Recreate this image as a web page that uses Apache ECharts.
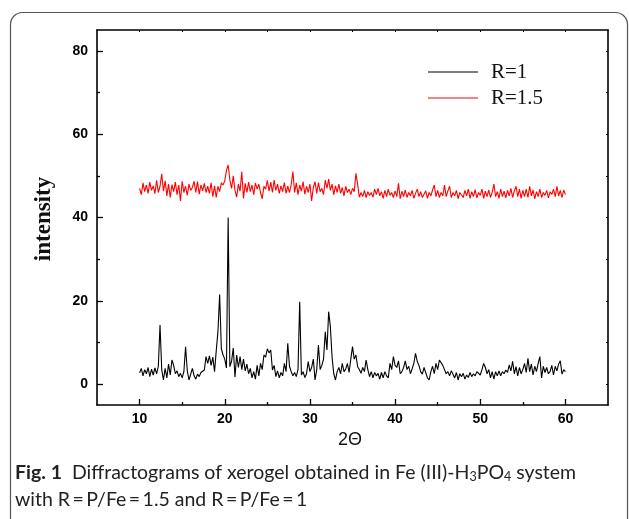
<!DOCTYPE html>
<html>
<head>
<meta charset="utf-8">
<script src="https://cdn.jsdelivr.net/npm/echarts@6/dist/echarts.min.js"></script>
<style>
html,body{margin:0;padding:0;background:#fff;}
#chart{width:629px;height:519px;}
</style>
</head>
<body>
<div id="chart"></div>
<script>
// Sampling grid of the diffractograms (degrees 2-theta)
const angleStart = 10;
const angleStep = 0.2;

// Series R=1 (black), one value per 0.2 degree from 10 to 60
const intensityR1 = [
  2.7, 3.8, 2.0, 3.5, 2.5,   4.0, 1.8, 3.6, 2.2, 3.9,
  2.5, 4.3, 14.2, 3.5, 1.0,  3.8, 1.5, 4.8, 2.2, 5.8,
  4.5, 2.5, 3.2, 1.8, 2.6,   1.5, 3.0, 9.0, 3.2, 1.0,
  0.6, 3.8, 2.0, 1.2, 2.4,   1.8, 2.8, 2.5, 3.4, 6.6,
  5.0, 6.8, 4.5, 6.5, 3.0,   8.0, 12.6, 21.5, 8.5, 7.0,
  6.0, 3.9, 40.0, 4.2, 5.5,  8.7, 1.7, 7.0, 4.0, 6.6,
  3.5, 6.0, 3.2, 4.8, 2.5,   3.8, 1.5, 3.0, 1.2, 4.5,
  2.0, 5.0, 3.5, 7.0, 6.5,   8.5, 7.5, 8.2, 3.4, 4.5,
  1.8, 3.2, 1.5, 2.8, 2.0,   5.0, 3.0, 9.8, 4.3, 3.0,
  2.0, 2.8, 1.8, 3.5, 19.8,  2.2, 3.0, 1.6, 2.5, 5.4,
  3.0, 4.0, 6.0, 1.0, 3.5,   9.4, 3.5, 4.5, 6.0, 12.6,
  8.2, 17.4, 13.8, 6.5, 2.5, 1.0, 3.0, 4.0, 2.5, 5.0,
  3.0, 3.6, 5.0, 2.8, 6.0,   9.0, 6.0, 7.0, 4.2, 3.5,
  2.6, 4.0, 3.0, 5.8, 3.5,   1.8, 3.0, 1.5, 2.8, 2.0,
  2.6, 1.2, 2.8, 1.5, 3.0,   2.0, 1.5, 5.0, 3.5, 6.6,
  4.5, 4.0, 5.6, 2.5, 3.0,   4.0, 5.6, 3.5, 4.3, 2.5,
  3.7, 5.0, 7.4, 5.5, 4.5,   3.0, 2.4, 4.0, 3.6, 1.5,
  1.0, 3.0, 4.3, 2.5, 5.0,   3.5, 5.8, 6.0, 4.5, 4.3,
  2.5, 3.0, 2.0, 3.2, 2.4,   1.5, 2.8, 1.0, 2.5, 1.8,
  2.6, 1.2, 2.2, 1.6, 2.8,   1.8, 2.5, 2.0, 3.0, 3.4,
  2.2, 3.5, 5.0, 4.0, 2.5,   3.5, 1.5, 3.0, 1.2, 3.0,
  2.0, 3.2, 2.0, 3.0, 2.5,   3.4, 2.8, 4.6, 3.2, 5.5,
  2.5, 4.2, 2.0, 4.0, 2.5,   3.5, 5.0, 2.8, 6.2, 3.0,
  4.8, 2.2, 4.3, 3.0, 5.0,   6.6, 1.5, 4.3, 2.8, 4.0,
  2.5, 3.0, 4.5, 2.2, 4.3,   3.2, 4.8, 5.6, 2.4, 3.5,
  3.0
];

// Series R=1.5 (red), same sampling
const intensityR15 = [
  47.0, 45.5, 48.3, 46.2, 47.8,  45.8, 48.5, 46.5, 47.6, 45.7,
  48.9, 46.0, 47.5, 50.5, 46.3,  48.8, 45.2, 48.0, 44.8, 47.9,
  46.2, 48.5, 45.5, 47.8, 44.0,  48.7, 46.0, 47.5, 45.3, 48.0,
  46.5, 47.2, 48.7, 46.0, 48.6,  45.6, 47.8, 46.4, 48.2, 46.0,
  47.5, 45.8, 48.3, 45.0, 47.6,  44.8, 47.5, 46.2, 48.3, 47.8,
  48.8, 51.3, 52.6, 49.0, 47.0,  50.0, 46.5, 44.9, 48.0, 46.3,
  51.0, 44.6, 48.2, 46.0, 48.5,  46.2, 47.8, 45.5, 48.3, 46.8,
  48.0, 46.0, 44.5, 47.5, 46.8,  48.9, 46.3, 48.5, 46.0, 49.0,
  46.5, 48.0, 45.8, 47.6, 46.2,  48.4, 45.8, 47.5, 46.0, 47.8,
  51.0, 46.0, 48.3, 45.5, 47.8,  46.3, 48.6, 45.6, 47.5, 46.0,
  48.0, 44.0, 47.2, 48.6, 45.8,  48.4, 46.2, 47.0, 45.5, 49.0,
  47.0, 49.2, 46.5, 48.0, 45.5,  47.6, 46.0, 48.0, 45.8, 47.2,
  45.2, 47.5, 46.0, 46.8, 45.5,  47.0, 46.2, 50.6, 48.0, 44.9,
  46.0, 45.0, 46.5, 44.8, 46.2,  45.3, 46.0, 44.9, 46.8, 45.5,
  47.0, 45.2, 46.2, 44.6, 46.5,  45.0, 46.8, 45.3, 46.0, 44.8,
  46.4, 45.0, 48.2, 44.5, 46.3,  45.0, 46.6, 44.8, 46.0, 45.2,
  46.5, 44.6, 45.8, 46.8, 45.0,  46.2, 44.8, 45.6, 46.4, 44.6,
  46.0, 45.2, 46.6, 47.8, 45.0,  46.5, 44.8, 46.0, 45.2, 47.8,
  45.0, 46.4, 47.5, 44.8, 46.0,  45.2, 46.5, 44.5, 46.0, 45.6,
  44.8, 46.5, 45.2, 46.8, 44.6,  46.2, 45.0, 46.7, 44.7, 46.0,
  45.3, 46.8, 44.6, 46.3, 45.0,  46.6, 44.8, 46.0, 48.0, 45.0,
  46.2, 44.6, 46.8, 45.0, 46.3,  44.7, 46.5, 45.2, 47.0, 44.8,
  46.4, 47.5, 45.0, 46.8, 44.6,  46.5, 45.0, 46.8, 44.8, 47.5,
  45.2, 46.6, 44.5, 46.2, 45.0,  46.8, 44.8, 46.0, 45.3, 46.5,
  44.7, 46.2, 45.5, 46.8, 45.0,  47.5, 45.2, 46.5, 44.8, 46.6,
  45.5
];

const seriesNames = ['R=1', 'R=1.5'];
const seriesColors = ['#000000', '#ff0000'];
const xLabelValues = [10, 20, 30, 40, 50, 60];
const xMinorValues = [15, 25, 35, 45, 55];
const yLabelValues = [0, 20, 40, 60, 80];
const yMinorValues = [10, 30, 50, 70];
const xAxisTitle = '2\u0398';
const yAxisTitle = 'intensity';

function toPairs(values) {
  return values.map((v, i) => [+(angleStart + i * angleStep).toFixed(1), v]);
}

const chart = echarts.init(document.getElementById('chart'), null, {renderer: 'canvas'});

const axisLineStyle = {color: '#000', width: 1.6};
const labelStyle = {fontFamily: '"Liberation Sans", Arial, sans-serif', fontWeight: 'bold', fontSize: 14, color: '#000'};

const option = {
  animation: false,
  backgroundColor: '#fff',
  grid: {left: 97, top: 30, width: 511, height: 375, containLabel: false},
  legend: {
    data: seriesNames.map((n, i) => ({name: n, itemStyle: {color: seriesColors[i], borderWidth: 0}, lineStyle: {color: seriesColors[i], width: 1}})),
    orient: 'vertical',
    left: 428,
    top: 61.5,
    padding: 0,
    itemWidth: 50,
    itemHeight: 1.2,
    itemGap: 5,
    icon: 'rect',
    textStyle: {fontFamily: '"Liberation Serif", "Times New Roman", serif', fontSize: 21, color: '#111', padding: [0, 0, 0, 8]}
  },
  xAxis: [
    {
      type: 'value', position: 'bottom', min: 5, max: 65,
      axisLine: {show: true, onZero: false, lineStyle: axisLineStyle},
      axisTick: {show: true, inside: true, length: 6, customValues: xLabelValues, lineStyle: {color: '#000', width: 1.3}},
      axisLabel: {show: true, customValues: xLabelValues, margin: 7, ...labelStyle},
      splitLine: {show: false}
    },
    {
      type: 'value', position: 'bottom', min: 5, max: 65,
      axisLine: {show: false, onZero: false},
      axisTick: {show: true, inside: true, length: 3, customValues: xMinorValues, lineStyle: {color: '#000', width: 1.3}},
      axisLabel: {show: false},
      splitLine: {show: false}
    },
    {
      type: 'value', position: 'top', min: 5, max: 65,
      axisLine: {show: true, onZero: false, lineStyle: axisLineStyle},
      axisTick: {show: true, inside: true, length: 2, customValues: xLabelValues.concat(xMinorValues), lineStyle: {color: '#000', width: 1}},
      axisLabel: {show: false},
      splitLine: {show: false}
    }
  ],
  yAxis: [
    {
      type: 'value', position: 'left', min: -5, max: 85,
      axisLine: {show: true, onZero: false, lineStyle: axisLineStyle},
      axisTick: {show: true, inside: true, length: 6, customValues: yLabelValues, lineStyle: {color: '#000', width: 1.3}},
      axisLabel: {show: true, customValues: yLabelValues, margin: 9, ...labelStyle},
      splitLine: {show: false}
    },
    {
      type: 'value', position: 'left', min: -5, max: 85,
      axisLine: {show: false, onZero: false},
      axisTick: {show: true, inside: true, length: 3, customValues: yMinorValues, lineStyle: {color: '#000', width: 1.3}},
      axisLabel: {show: false},
      splitLine: {show: false}
    },
    {
      type: 'value', position: 'right', min: -5, max: 85,
      axisLine: {show: true, onZero: false, lineStyle: axisLineStyle},
      axisTick: {show: true, inside: true, length: 2, customValues: yLabelValues.concat(yMinorValues), lineStyle: {color: '#000', width: 1}},
      axisLabel: {show: false},
      splitLine: {show: false}
    }
  ],
  series: [
    {
      name: seriesNames[0], type: 'line', xAxisIndex: 0, yAxisIndex: 0,
      data: toPairs(intensityR1), symbol: 'none', showSymbol: false,
      lineStyle: {color: seriesColors[0], width: 1.1}, itemStyle: {color: seriesColors[0]}
    },
    {
      name: seriesNames[1], type: 'line', xAxisIndex: 0, yAxisIndex: 0,
      data: toPairs(intensityR15), symbol: 'none', showSymbol: false,
      lineStyle: {color: seriesColors[1], width: 1.1}, itemStyle: {color: seriesColors[1]}
    }
  ],
  graphic: [
    {
      type: 'rect', silent: true, z: -1,
      shape: {x: 10.5, y: 12.5, width: 617, height: 530, r: 12},
      style: {fill: 'none', stroke: '#555', lineWidth: 1.2}
    },
    {
      type: 'text', x: 44, y: 219, rotation: Math.PI / 2,
      style: {text: yAxisTitle, font: 'bold 23px "Liberation Serif", "Times New Roman", serif', fill: '#111', align: 'center', verticalAlign: 'middle'}
    },
    {
      type: 'text', x: 350, y: 440,
      style: {text: xAxisTitle, font: '18px "Liberation Sans", Arial, sans-serif', fill: '#111', align: 'center', verticalAlign: 'middle'}
    },
    {
      type: 'text', x: 15, y: 459,
      style: {
        text: '{b|Fig. 1}  Diffractograms of xerogel obtained in Fe (III)-H{s|3}PO{s|4} system\nwith R\u2009=\u2009P/Fe\u2009=\u20091.5 and R\u2009=\u2009P/Fe\u2009=\u20091',
        fontFamily: 'Lato, "Open Sans", sans-serif', fontSize: 19.5, fill: '#222', lineHeight: 27,
        rich: {
          b: {fontFamily: 'Lato, "Open Sans", sans-serif', fontSize: 19.5, fontWeight: 'bold', fill: '#222', lineHeight: 27},
          s: {fontFamily: 'Lato, "Open Sans", sans-serif', fontSize: 12.5, fill: '#222', padding: [8, 0, 0, 0], lineHeight: 27}
        }
      }
    }
  ]
};

chart.setOption(option);
</script>
</body>
</html>
